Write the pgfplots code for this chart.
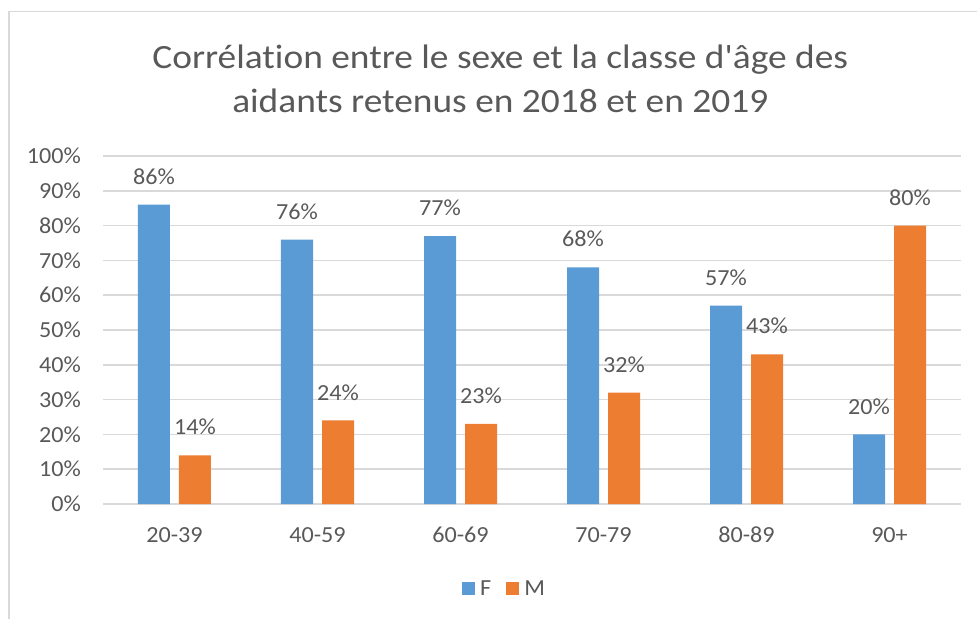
\documentclass[border=0pt]{standalone}
\usepackage{pgfplots}
\pgfplotsset{compat=1.18}
\usepackage{fontspec}
\setmainfont{Carlito}[FakeStretch=1.05]
\newfontfamily\titlefont{Carlito}[FakeStretch=1.1]
\definecolor{barF}{HTML}{5B9BD5}
\definecolor{barM}{HTML}{ED7D31}
\definecolor{txt}{HTML}{595959}
\definecolor{grd}{HTML}{D9D9D9}
\begin{document}
\begin{tikzpicture}
\begin{axis}[
    name=ax, at={(0,0)}, anchor=south west,
    scale only axis, width=858pt, height=348pt,
    ybar=9pt, bar width=32pt,
    xmin=-0.5, xmax=5.5, ymin=0, ymax=100,
    xtick={0,1,2,3,4,5},
    xticklabels={20-39,40-59,60-69,70-79,80-89,90+},
    ytick={0,10,...,100},
    yticklabel={\pgfmathprintnumber{\tick}\%},
    /pgf/number format/assume math mode=true,
    ymajorgrids, grid style={grd, line width=1.5pt},
    axis line style={draw=none},
    major tick length=0pt,
    ticklabel style={font=\fontsize{23}{26}\selectfont, text=txt, inner sep=0pt},
    yticklabel style={anchor=east, xshift=-22pt},
    xticklabel style={anchor=center, yshift=-31pt},
    clip=false,
    nodes near coords={\pgfmathprintnumber{\pgfplotspointmeta}\%},
    every node near coord/.append style={font=\fontsize{23}{26}\selectfont, text=txt, inner sep=0pt, anchor=south, yshift=20pt},
    title={Corrélat\kern0pt ion entre le sexe et la classe d\char"27âge des\\aidants retenus en 2018 et en 2019},
    title style={at={(0.463,1.204)}, anchor=center, align=center, text=txt, font=\titlefont\fontsize{34}{44}\selectfont},
    legend columns=2,
    legend style={at={(0.468,-0.244)}, anchor=center, draw=none, font=\fontsize{23}{26}\selectfont, text=txt,
        /tikz/every odd column/.append style={column sep=3pt},
        /tikz/every even column/.append style={column sep=13pt}},
    legend image code/.code={\fill (0pt,-6.5pt) rectangle (13pt,6.5pt);},
]
\addplot[fill=barF, draw=none] coordinates {(0,86) (1,76) (2,77) (3,68) (4,57) (5,20)};
\addplot[fill=barM, draw=none] coordinates {(0,14) (1,24) (2,23) (3,32) (4,43) (5,80)};
\legend{F, M}
\end{axis}
\draw[grd, line width=1.5pt] (-94pt,-115pt) -- (-94pt,492.5pt) -- (874pt,492.5pt);
\pgfresetboundingbox
\useasboundingbox (-103pt,-115pt) rectangle (874pt,504pt);
\end{tikzpicture}
\end{document}
